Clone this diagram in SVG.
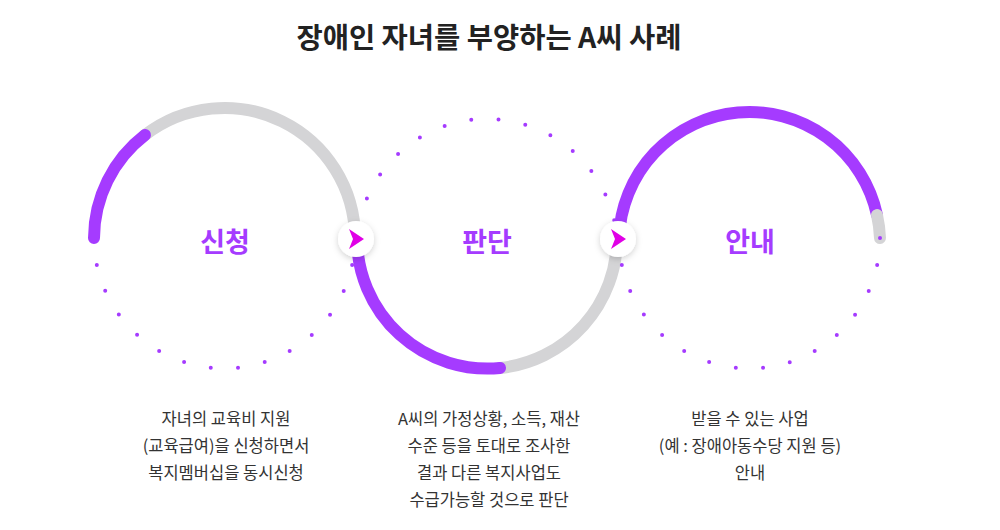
<svg xmlns="http://www.w3.org/2000/svg" width="1000" height="530" viewBox="0 0 1000 530">
<defs>
<style>
.ring{fill:none;stroke-width:12;stroke-linecap:round}
.p{stroke:#a53bff}.g{stroke:#d4d4d6}
.dot{fill:none;stroke:#a53bff;stroke-width:4;stroke-linecap:round;stroke-dasharray:0 27.33}
.t{font-family:"Noto Sans CJK KR","Noto Sans",sans-serif}
.lab{font-size:27px;font-weight:700;fill:#a53bff;text-anchor:middle}
.desc{font-size:16.5px;fill:#333;text-anchor:middle}
</style>
<filter id="sh" x="-50%" y="-50%" width="200%" height="200%"><feDropShadow dx="0" dy="2" stdDeviation="3" flood-color="#000" flood-opacity="0.18"/></filter>
<g id="badge"><circle r="18" fill="#fff" filter="url(#sh)"/><path d="M-7,-10 L8,0 L-7,10 L-3,0 Z" fill="#e000e6"/></g>
</defs>
<rect width="1000" height="530" fill="#fff"/>
<text class="t" x="489" y="48" font-size="28.5" font-weight="700" fill="#222" text-anchor="middle">장애인 자녀를 부양하는 A씨 사례</text>
<g id="connectors">
<path class="ring g" d="M145,135 A130.5,130.5 0 0 1 355,238"/>
<path class="ring p" d="M94,238 A130.5,130.5 0 0 1 145,135"/>
<path class="dot" d="M355,238 A130.5,130.5 0 0 1 94,238"/>
<path class="ring g" d="M500,368 A130.5,130.5 0 0 0 617,238"/>
<path class="ring p" d="M357,238 A130.5,130.5 0 0 0 500,368"/>
<path class="dot" stroke-dashoffset="13.66" d="M357,238 A130.5,130.5 0 0 1 617,238"/>
<path class="ring p" d="M619,238 A130.5,130.5 0 0 1 877,215"/>
<path class="ring g" d="M877,215 A130.5,130.5 0 0 1 880,238"/>
<path class="dot" d="M880,238 A130.5,130.5 0 0 1 619,238"/>
</g>
<g id="arrow1"><use href="#badge" x="356" y="239"/></g>
<g id="arrow2"><use href="#badge" x="618" y="239"/></g>
<g id="node1">
<text class="t lab" x="225" y="252">신청</text>
<text class="t desc"><tspan x="226" y="425">자녀의 교육비 지원</tspan><tspan x="226" y="452">(교육급여)을 신청하면서</tspan><tspan x="226" y="479">복지멤버십을 동시신청</tspan></text>
</g>
<g id="node2">
<text class="t lab" x="487" y="252">판단</text>
<text class="t desc"><tspan x="489" y="425">A씨의 가정상황, 소득, 재산</tspan><tspan x="489" y="452">수준 등을 토대로 조사한</tspan><tspan x="489" y="479">결과 다른 복지사업도</tspan><tspan x="489" y="506">수급가능할 것으로 판단</tspan></text>
</g>
<g id="node3">
<text class="t lab" x="750" y="252">안내</text>
<text class="t desc"><tspan x="750" y="425">받을 수 있는 사업</tspan><tspan x="750" y="452">(예 : 장애아동수당 지원 등)</tspan><tspan x="750" y="479">안내</tspan></text>
</g>
</svg>
